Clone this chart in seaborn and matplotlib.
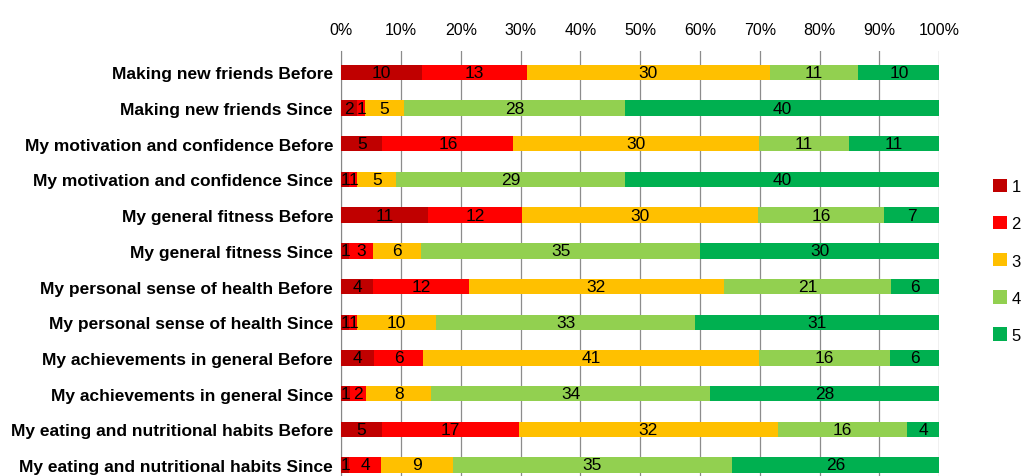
import numpy as np
import pandas as pd
import matplotlib
matplotlib.use("Agg")
import matplotlib.pyplot as plt
import seaborn as sns
from matplotlib.patches import Patch
from matplotlib.ticker import PercentFormatter

# Survey rows (top to bottom) and counts for ratings 1..5
rows = [
    "Making new friends Before",
    "Making new friends Since",
    "My motivation and confidence Before",
    "My motivation and confidence Since",
    "My general fitness Before",
    "My general fitness Since",
    "My personal sense of health Before",
    "My personal sense of health Since",
    "My achievements in general Before",
    "My achievements in general Since",
    "My eating and nutritional habits Before",
    "My eating and nutritional habits Since",
]
r1 = [10, 2, 5, 1, 11, 1, 4, 1, 4, 1, 5, 1]
r2 = [13, 1, 16, 1, 12, 3, 12, 1, 6, 2, 17, 4]
r3 = [30, 5, 30, 5, 30, 6, 32, 10, 41, 8, 32, 9]
r4 = [11, 28, 11, 29, 16, 35, 21, 33, 16, 34, 16, 35]
r5 = [10, 40, 11, 40, 7, 30, 6, 31, 6, 28, 4, 26]
ratings = ["1", "2", "3", "4", "5"]
colors = ["#C00000", "#FF0000", "#FFC000", "#92D050", "#00B050"]

counts = pd.DataFrame({"1": r1, "2": r2, "3": r3, "4": r4, "5": r5}, index=rows)
share = counts.div(counts.sum(axis=1), axis=0) * 100
cum = share.cumsum(axis=1)

plt.rcParams["font.family"] = ["Liberation Sans", "DejaVu Sans"]
fig = plt.figure(figsize=(10.22, 4.77), dpi=100)
ax = fig.add_axes([0.334, 0.0, 0.585, 0.891])

# stacked bars: draw cumulative totals from the largest down
for i in range(len(ratings) - 1, -1, -1):
    df = pd.DataFrame({"row": rows, "val": cum[ratings[i]].values})
    sns.barplot(data=df, x="val", y="row", orient="h", color=colors[i],
                width=0.43, linewidth=0, saturation=1, ax=ax, zorder=3)

# count labels in the middle of each segment
for j, row in enumerate(rows):
    start = 0
    for k in ratings:
        w = share.loc[row, k]
        ax.text(start + w / 2, j, str(counts.loc[row, k]), ha="center", va="center",
                fontsize=12.5, color="black", zorder=4)
        start += w

ax.set_xlim(0, 100)
ax.set_ylim(11.31, -0.6)
ax.xaxis.tick_top()
ax.set_xticks(np.arange(0, 101, 10))
ax.xaxis.set_major_formatter(PercentFormatter(decimals=0))
ax.grid(axis="x", color="#8C8C8C", linewidth=0.9, zorder=0)
ax.set_axisbelow(True)
ax.set_xlabel("")
ax.set_ylabel("")
ax.tick_params(axis="x", length=0, labelsize=11.5, pad=10)
ax.tick_params(axis="y", length=0, labelsize=12.5, pad=6)
for lab in ax.get_yticklabels():
    lab.set_fontweight("bold")
for s in ["top", "right", "bottom"]:
    ax.spines[s].set_visible(False)
ax.spines["left"].set_color("#868686")

handles = [Patch(facecolor=c, edgecolor="none") for c in colors]
fig.legend(handles, ratings, loc="center left", bbox_to_anchor=(0.957, 0.451),
           frameon=False, fontsize=12, labelspacing=1.3, handlelength=0.85,
           handleheight=0.85, handletextpad=0.25)

fig.savefig("out.png", dpi=100)
